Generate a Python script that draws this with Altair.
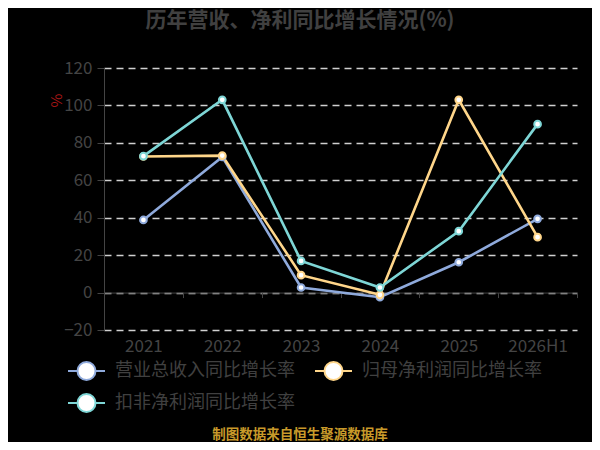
import altair as alt
import pandas as pd

years = ["2021", "2022", "2023", "2024", "2025", "2026H1"]
series_names = ["营业总收入同比增长率", "归母净利润同比增长率", "扣非净利润同比增长率"]
revenue = [38.8, 72.5, 2.7, -2.5, 16.2, 39.4]
net_profit = [72.7, 73.2, 9.3, -1.2, 103.0, 29.6]
deducted = [72.9, 103.0, 16.9, 2.7, 32.8, 90.0]
colors = ["#8FAADC", "#FFD68A", "#7ED6D6"]
title_text = "历年营收、净利同比增长情况(%)"
source_text = "制图数据来自恒生聚源数据库"
y_ticks = [-20, 0, 20, 40, 60, 80, 100, 120]

rows = []
for name, vals in zip(series_names, [revenue, net_profit, deducted]):
    for yr, v in zip(years, vals):
        rows.append({"年份": yr, "系列": name, "值": v})
df = pd.DataFrame(rows)

FONT = "Noto Sans CJK SC"
W, H = 473, 262
zero_offset = -(H * 20 / 140)

xenc = alt.X(
    "年份:N",
    sort=years,
    scale=alt.Scale(type="band", paddingInner=0, paddingOuter=0),
    axis=alt.Axis(
        title=None, labelAngle=0, offset=zero_offset, domainColor="#444444",
        tickColor="#444444", tickSize=5, tickBand="extent", labelPadding=41,
        labelFontSize=17, labelColor="#444444", labelFont=FONT, grid=False, zindex=0,
    ),
)
yenc = alt.Y(
    "值:Q",
    scale=alt.Scale(domain=[-20, 120], nice=False, zero=False),
    axis=alt.Axis(
        values=y_ticks, grid=True, gridDash=[7, 5], gridColor="#d0d0d0", gridWidth=1.5,
        domainColor="#444444", tickColor="#444444", tickSize=7, labelPadding=5,
        labelFontSize=17, labelColor="#444444", labelFont=FONT,
        title="%", titleColor="#A31515", titleFontSize=15, titleFont=FONT,
        titleX=-48, titleY=32, titleAngle=270, titleAlign="center", titleBaseline="middle",
        titleFontWeight="normal", zindex=0,
    ),
)

sym_path = "M-1.233,0L-0.6,0M0.6,0L1.233,0M0.6,0A0.6,0.6,0,1,1,-0.6,0A0.6,0.6,0,1,1,0.6,0Z"

base = alt.Chart(df)
lines = base.mark_line(strokeWidth=2.6).encode(
    x=xenc,
    y=yenc,
    color=alt.Color(
        "系列:N",
        scale=alt.Scale(domain=series_names, range=colors),
        legend=alt.Legend(
            title=None, orient="none", legendX=-33.5, legendY=287, columns=2,
            direction="horizontal",
            symbolType=sym_path, symbolSize=900, symbolFillColor="white",
            symbolStrokeWidth=2, symbolOpacity=1, labelFontSize=18, labelFont=FONT,
            labelColor="#404040", labelOffset=12.5, columnPadding=15, rowPadding=3,
            padding=0, labelLimit=400,
        ),
    ),
)
points = base.mark_point(
    shape="circle", fill="white", filled=False, fillOpacity=1, size=45, strokeWidth=2, opacity=1
).encode(
    x=xenc,
    y=yenc,
    stroke=alt.Stroke("系列:N", scale=alt.Scale(domain=series_names, range=colors), legend=None),
)
source = alt.Chart(pd.DataFrame({"t": [source_text]})).mark_text(
    font=FONT, fontSize=13.5, fontWeight="bold", color="#C89A2A", align="center", baseline="middle"
).encode(text="t:N", x=alt.value(196), y=alt.value(367))

chart = alt.layer(lines, points, source).properties(
    width=W,
    height=H,
    autosize=alt.AutoSizeParams(type="none"),
    padding={"left": 96, "top": 60, "right": 15, "bottom": 112},
    title=alt.TitleParams(
        title_text, fontSize=21, fontWeight="bold", color="#404040", font=FONT,
        anchor="middle", dx=-40.5, offset=28,
    ),
    background="black",
).configure_view(stroke=None)

chart.save("out.html", embed_options={"renderer": "svg", "actions": False})
